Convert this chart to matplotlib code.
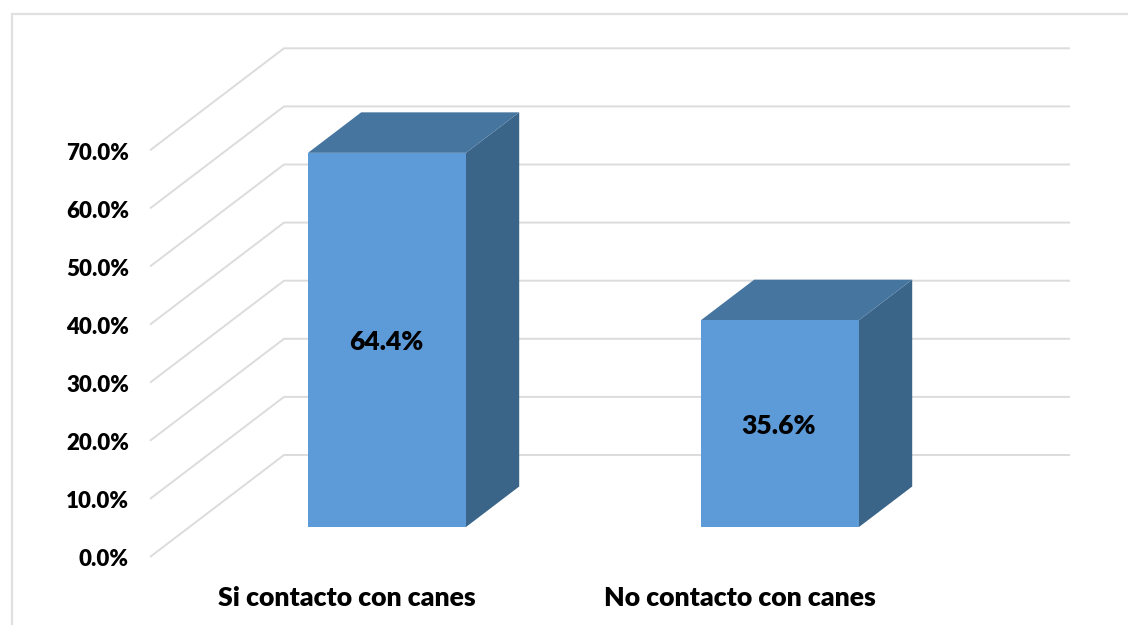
import matplotlib
matplotlib.use("Agg")
import matplotlib.pyplot as plt
from matplotlib.lines import Line2D
from matplotlib.patches import Polygon

categories = ["Si contacto con canes", "No contacto con canes"]
values = [64.4, 35.6]
value_labels = ["64.4%", "35.6%"]
ticks = [0, 10, 20, 30, 40, 50, 60, 70]
tick_labels = ["0.0%", "10.0%", "20.0%", "30.0%", "40.0%", "50.0%", "60.0%", "70.0%"]

W, H = 1128, 625
PX_PER_CAT = 393.0
PX_PER_PCT = 5.81
CX0, Y0 = 387.0, 527.0
BAR_W = 158 / PX_PER_CAT
plt.rcParams["font.family"] = ["Lato", "DejaVu Sans"]
WEIGHT = 800

fig = plt.figure(figsize=(W / 100, H / 100), dpi=100, facecolor="white")
ax = fig.add_axes([0, 0, 1, 1])
ax.set_xlim(-CX0 / PX_PER_CAT, (W - CX0) / PX_PER_CAT)
ax.set_ylim(-(H - Y0) / PX_PER_PCT, Y0 / PX_PER_PCT)
ax.axis("off")

DX = 134 / PX_PER_CAT
DY = 102 / PX_PER_PCT
Z_BAR = 30 / 102


def proj(c, v, z):
    """Oblique projection; z=0 is the front of the floor, z=1 the back wall."""
    return c + (z - Z_BAR) * DX, v + (z - Z_BAR) * DY


GRID = "#DCDCDC"
right_c = (1070 - CX0) / PX_PER_CAT
wall_c = (150 - CX0) / PX_PER_CAT + Z_BAR * DX
for t, lab in zip(ticks, tick_labels):
    p0 = proj(wall_c, t, 0)
    p1 = proj(wall_c, t, 1)
    p2 = (right_c, p1[1])
    ax.plot([p0[0], p1[0], p2[0]], [p0[1], p1[1], p2[1]], color=GRID, lw=1.4,
            solid_capstyle="butt", solid_joinstyle="miter", zorder=1)
    ax.annotate(lab, xy=p0, xytext=(-21, -3), textcoords="offset pixels",
                ha="right", va="center", fontsize=16, color="black", fontweight=WEIGHT)

Z_D = 40.5 / 102
for i, (v, cat, vlab) in enumerate(zip(values, categories, value_labels)):
    l, r = i - BAR_W / 2, i + BAR_W / 2
    zf, zb = Z_BAR, Z_BAR + Z_D
    side = [proj(r, 0, zf), proj(r, 0, zb), proj(r, v, zb), proj(r, v, zf)]
    top = [proj(l, v, zf), proj(r, v, zf), proj(r, v, zb), proj(l, v, zb)]
    front = [proj(l, 0, zf), proj(r, 0, zf), proj(r, v, zf), proj(l, v, zf)]
    ax.add_patch(Polygon(side, closed=True, fc="#3A6488", ec="none", zorder=3))
    ax.add_patch(Polygon(top, closed=True, fc="#4675A0", ec="none", zorder=3))
    ax.add_patch(Polygon(front, closed=True, fc="#5D9AD8", ec="none", zorder=4))
    ax.annotate(vlab, xy=(i, v / 2), xytext=(-1, -2), textcoords="offset pixels",
                ha="center", va="center", fontsize=19, color="black", zorder=5, fontweight=WEIGHT)
    ax.annotate(cat, xy=(i, 0), xytext=(-40, -70.5), textcoords="offset pixels",
                ha="center", va="center", fontsize=19.2, color="black", zorder=5, fontweight=WEIGHT)

# chart-area frame, cropped by the picture at the right and the bottom
fig.add_artist(Line2D([11.5 / W, 11.5 / W, 1], [0, 1 - 13.5 / H, 1 - 13.5 / H],
                      color="#E0E0E0", lw=1.6, solid_joinstyle="miter"))

fig.savefig("out.png", dpi=100)
